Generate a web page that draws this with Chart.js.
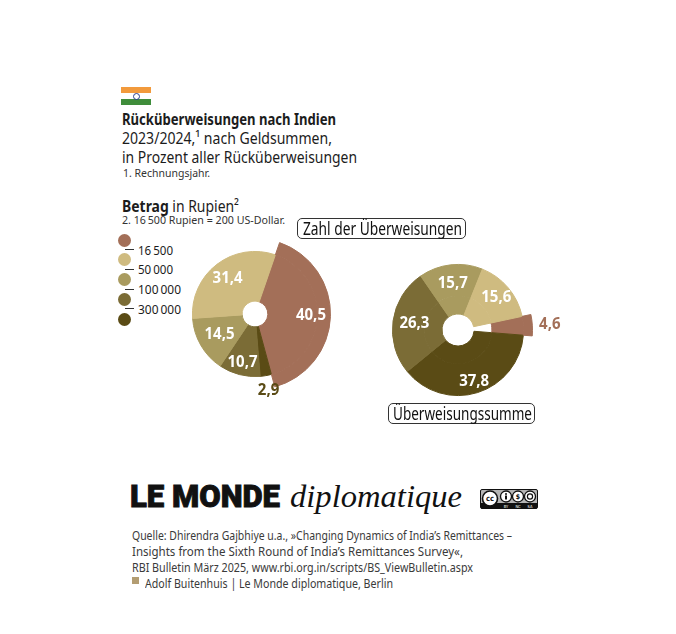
<!DOCTYPE html>
<html lang="de">
<head>
<meta charset="utf-8">
<script src="https://cdn.jsdelivr.net/npm/chart.js@4.4.3/dist/chart.umd.min.js"></script>
<style>
  html, body { margin: 0; padding: 0; background: #fff; }
  body {
    width: 676px; height: 634px; position: relative; overflow: hidden;
    font-family: "Noto Sans", "Open Sans", sans-serif; font-stretch: 80%;
    color: #1c1c1c;
  }
  .abs { position: absolute; white-space: nowrap; transform-origin: left top; }
  .flag { left: 121px; top: 87px; width: 30px; height: 18px; }
  .flag div { height: 6px; }
  .t17 { font-size: 16.5px; line-height: 19px; }
  .small { font-size: 11.5px; line-height: 13px; color: #333; }
  .box {
    border: 1.5px solid #333; border-radius: 5px; background: #fff;
    height: 19px; color: #111;
  }
  .boxtext { font-size: 17.5px; line-height: 19px; color: #111; }
  #legend .dot { position: absolute; width: 13px; height: 13px; border-radius: 50%; }
  #legend .tick { position: absolute; height: 1px; width: 9px; background: #333; }
  #legend .lab { font-size: 13px; line-height: 14px; color: #1c1c1c; }
  canvas { position: absolute; }
  .logo1 { font-family: Roboto, "DejaVu Sans", sans-serif; font-stretch: normal; font-weight: 900; font-size: 31px; line-height: 34px; color: #111; -webkit-text-stroke: 0.9px #111; }
  .logo2 { font-family: "Liberation Serif", "DejaVu Serif", serif; font-stretch: normal; font-style: italic; font-size: 32px; line-height: 36px; color: #111; }
  .src { font-size: 12.5px; line-height: 16px; color: #3a3a3a; }
  .sq { position: absolute; left: 132px; top: 577px; width: 7px; height: 7px; background: #b39d72; }
</style>
</head>
<body>

<div class="abs flag">
  <div style="background:#f29a3c"></div>
  <div style="background:#fff;position:relative"><span style="position:absolute;left:12px;top:0;width:5px;height:5px;border:0.8px solid #2b3d8c;border-radius:50%"></span></div>
  <div style="background:#3f8d3b"></div>
</div>

<div class="abs t17" data-w="214" style="left:122px;top:109px"><b>Rücküberweisungen nach Indien</b></div>
<div class="abs t17" data-w="210" style="left:122px;top:128px">2023/2024,¹ nach Geldsummen,</div>
<div class="abs t17" data-w="235" style="left:122px;top:147px">in Prozent aller Rücküberweisungen</div>
<div class="abs small" data-w="87" style="left:123px;top:166px">1. Rechnungsjahr.</div>

<div class="abs t17" data-w="117" style="left:122px;top:196px"><b>Betrag</b> in Rupien²</div>
<div class="abs small" data-w="163" style="left:122px;top:213px">2. 16&#8239;500 Rupien = 200 US-Dollar.</div>

<div id="legend"></div>

<canvas id="zahl" width="220" height="220" style="left:145px;top:204px"></canvas>
<canvas id="summe" width="220" height="220" style="left:348px;top:220px"></canvas>

<div class="abs box" style="left:297px;top:218px;width:167px"></div>
<div class="abs boxtext" data-w="159" style="left:303px;top:219px">Zahl der Überweisungen</div>
<div class="abs box" style="left:388px;top:403px;width:145px"></div>
<div class="abs boxtext" data-w="139" style="left:393px;top:404px">Überweisungssumme</div>

<div class="abs logo1" data-w="150" style="left:130px;top:480px">LE MONDE</div>
<div class="abs logo2" data-w="172" style="left:290px;top:478px">diplomatique</div>
<svg class="abs" style="left:480px;top:489px" width="58" height="20" viewBox="0 0 58 20">
  <rect x="0.5" y="0.5" width="57" height="19" rx="1.5" fill="#b5b5b5" stroke="#111"/>
  <rect x="1" y="14" width="56" height="5.5" fill="#111"/>
  <circle cx="10" cy="9.5" r="7.5" fill="#fff" stroke="#111" stroke-width="1.6"/>
  <text x="10" y="12.3" font-family="DejaVu Sans" font-weight="bold" font-size="7.5" text-anchor="middle" fill="#111">cc</text>
  <circle cx="26" cy="7.5" r="5.5" fill="#fff" stroke="#111" stroke-width="1.3"/>
  <circle cx="26" cy="5" r="1" fill="#111"/><rect x="25" y="6.5" width="2" height="4" fill="#111"/>
  <circle cx="38" cy="7.5" r="5.5" fill="#fff" stroke="#111" stroke-width="1.3"/>
  <text x="38" y="10" font-family="DejaVu Sans" font-weight="bold" font-size="7" text-anchor="middle" fill="#111">$</text>
  <circle cx="50" cy="7.5" r="5.5" fill="#fff" stroke="#111" stroke-width="1.3"/>
  <circle cx="50" cy="7.5" r="2.6" fill="none" stroke="#111" stroke-width="1.2"/>
  <text x="26" y="18.6" font-family="DejaVu Sans" font-size="4" text-anchor="middle" fill="#fff">BY</text>
  <text x="38" y="18.6" font-family="DejaVu Sans" font-size="4" text-anchor="middle" fill="#fff">NC</text>
  <text x="50" y="18.6" font-family="DejaVu Sans" font-size="4" text-anchor="middle" fill="#fff">SA</text>
</svg>

<div class="abs src" data-w="380" style="left:132px;top:528px">Quelle: Dhirendra Gajbhiye u.a., »Changing Dynamics of India’s Remittances –</div>
<div class="abs src" data-w="331" style="left:132px;top:544px">Insights from the Sixth Round of India’s Remittances Survey«,</div>
<div class="abs src" data-w="341" style="left:132px;top:560px">RBI Bulletin März 2025, www.rbi.org.in/scripts/BS_ViewBulletin.aspx</div>
<div class="sq"></div>
<div class="abs src" data-w="248" style="left:145px;top:576px">Adolf Buitenhuis | Le Monde diplomatique, Berlin</div>

<script>
// Betragsklassen in Rupien, von klein nach groß
const categories = ['bis 16 500', '16 500 bis 50 000', '50 000 bis 100 000', '100 000 bis 300 000', 'über 300 000'];
const legendTicks = ['16\u202F500', '50\u202F000', '100\u202F000', '300\u202F000'];

// Anteile in Prozent, gleiche Reihenfolge wie categories
const zahlShare = [40.5, 31.4, 14.5, 10.7, 2.9];
const summeShare = [4.6, 15.6, 15.7, 26.3, 37.8];

const colors = ['#a36f58', '#cfbb80', '#a99b5f', '#7b6c36', '#5a4b15'];
// im Uhrzeigersinn: kleinste Klasse, dann von groß nach klein
const drawOrder = [0, 4, 3, 2, 1];

// Legende
const legend = document.getElementById('legend');
const legendWidths = [35, 35, 43, 43];
colors.forEach((c, i) => {
  const d = document.createElement('div');
  d.className = 'dot';
  d.style.cssText = `left:118px;top:${233.5 + i * 19.8}px;background:${c}`;
  legend.appendChild(d);
});
legendTicks.forEach((t, i) => {
  const y = 242.5 + i * 19.8;
  const tick = document.createElement('div');
  tick.className = 'tick';
  tick.style.cssText = `left:125px;top:${y + 6.5}px`;
  legend.appendChild(tick);
  const lab = document.createElement('div');
  lab.className = 'abs lab';
  lab.dataset.w = legendWidths[i];
  lab.style.cssText = `left:138px;top:${y}px`;
  lab.textContent = t;
  legend.appendChild(lab);
});

// Texte auf die Breite im Original stauchen
document.querySelectorAll('[data-w]').forEach((el) => {
  const w = el.getBoundingClientRect().width;
  if (w > 0) el.style.transform = `scaleX(${Number(el.dataset.w) / w})`;
});

const fmt = (v) => v.toLocaleString('de-DE', { minimumFractionDigits: 1, maximumFractionDigits: 1 });

const sliceLabels = {
  id: 'sliceLabels',
  afterDatasetsDraw(chart, args, opts) {
    const { ctx } = chart;
    const meta = chart.getDatasetMeta(chart.data.datasets.length - 1);
    ctx.save();
    ctx.textAlign = 'center';
    ctx.textBaseline = 'middle';
    ctx.font = 'bold 16px "Noto Sans", "Open Sans", sans-serif';
    const sx = 30 / ctx.measureText('40,5').width;
    meta.data.forEach((arc, k) => {
      const cat = drawOrder[k];
      const mid = (arc.startAngle + arc.endAngle) / 2;
      const r = opts.radius[cat];
      const x = arc.x + Math.cos(mid) * r;
      const y = arc.y + Math.sin(mid) * r;
      ctx.save();
      ctx.translate(x, y);
      ctx.scale(sx, 1);
      ctx.fillStyle = opts.outside[cat] ? colors[cat] : '#fff';
      ctx.fillText(fmt(opts.values[cat]), 0, 0);
      ctx.restore();
    });
    ctx.restore();
  }
};

function makeDonut(id, values, cfg) {
  const ordered = drawOrder.map((i) => values[i]);
  const datasets = cfg.rings.map((ring) => {
    const bg = drawOrder.map((cat) => (ring.cats.includes(cat) ? colors[cat] : 'rgba(0,0,0,0)'));
    return { data: ordered, backgroundColor: bg, borderColor: bg, borderWidth: 1, weight: ring.weight };
  });
  return new Chart(document.getElementById(id), {
    type: 'doughnut',
    data: { labels: drawOrder.map((i) => categories[i]), datasets },
    options: {
      responsive: false,
      animation: false,
      rotation: cfg.rotation,
      cutout: cfg.cutout,
      layout: { padding: cfg.padding },
      plugins: {
        legend: { display: false },
        tooltip: { enabled: false },
        sliceLabels: { values, radius: cfg.labelRadius, outside: cfg.outside }
      }
    },
    plugins: [sliceLabels]
  });
}

makeDonut('zahl', zahlShare, {
  rotation: 19,
  cutout: '17%',
  padding: 34,
  rings: [
    { weight: 13, cats: [0] },
    { weight: 50, cats: [0, 1, 2, 3, 4] }
  ],
  labelRadius: [56, 45, 41, 50, 78],
  outside: [false, false, false, false, true]
});

makeDonut('summe', summeShare, {
  rotation: 78,
  cutout: '21.5%',
  padding: 35,
  rings: [
    { weight: 9, cats: [0] },
    { weight: 32, cats: [0, 1, 2, 3, 4] },
    { weight: 18, cats: [1, 2, 3, 4] }
  ],
  labelRadius: [92, 50, 47, 44, 54],
  outside: [true, false, false, false, false]
});
</script>
</body>
</html>
